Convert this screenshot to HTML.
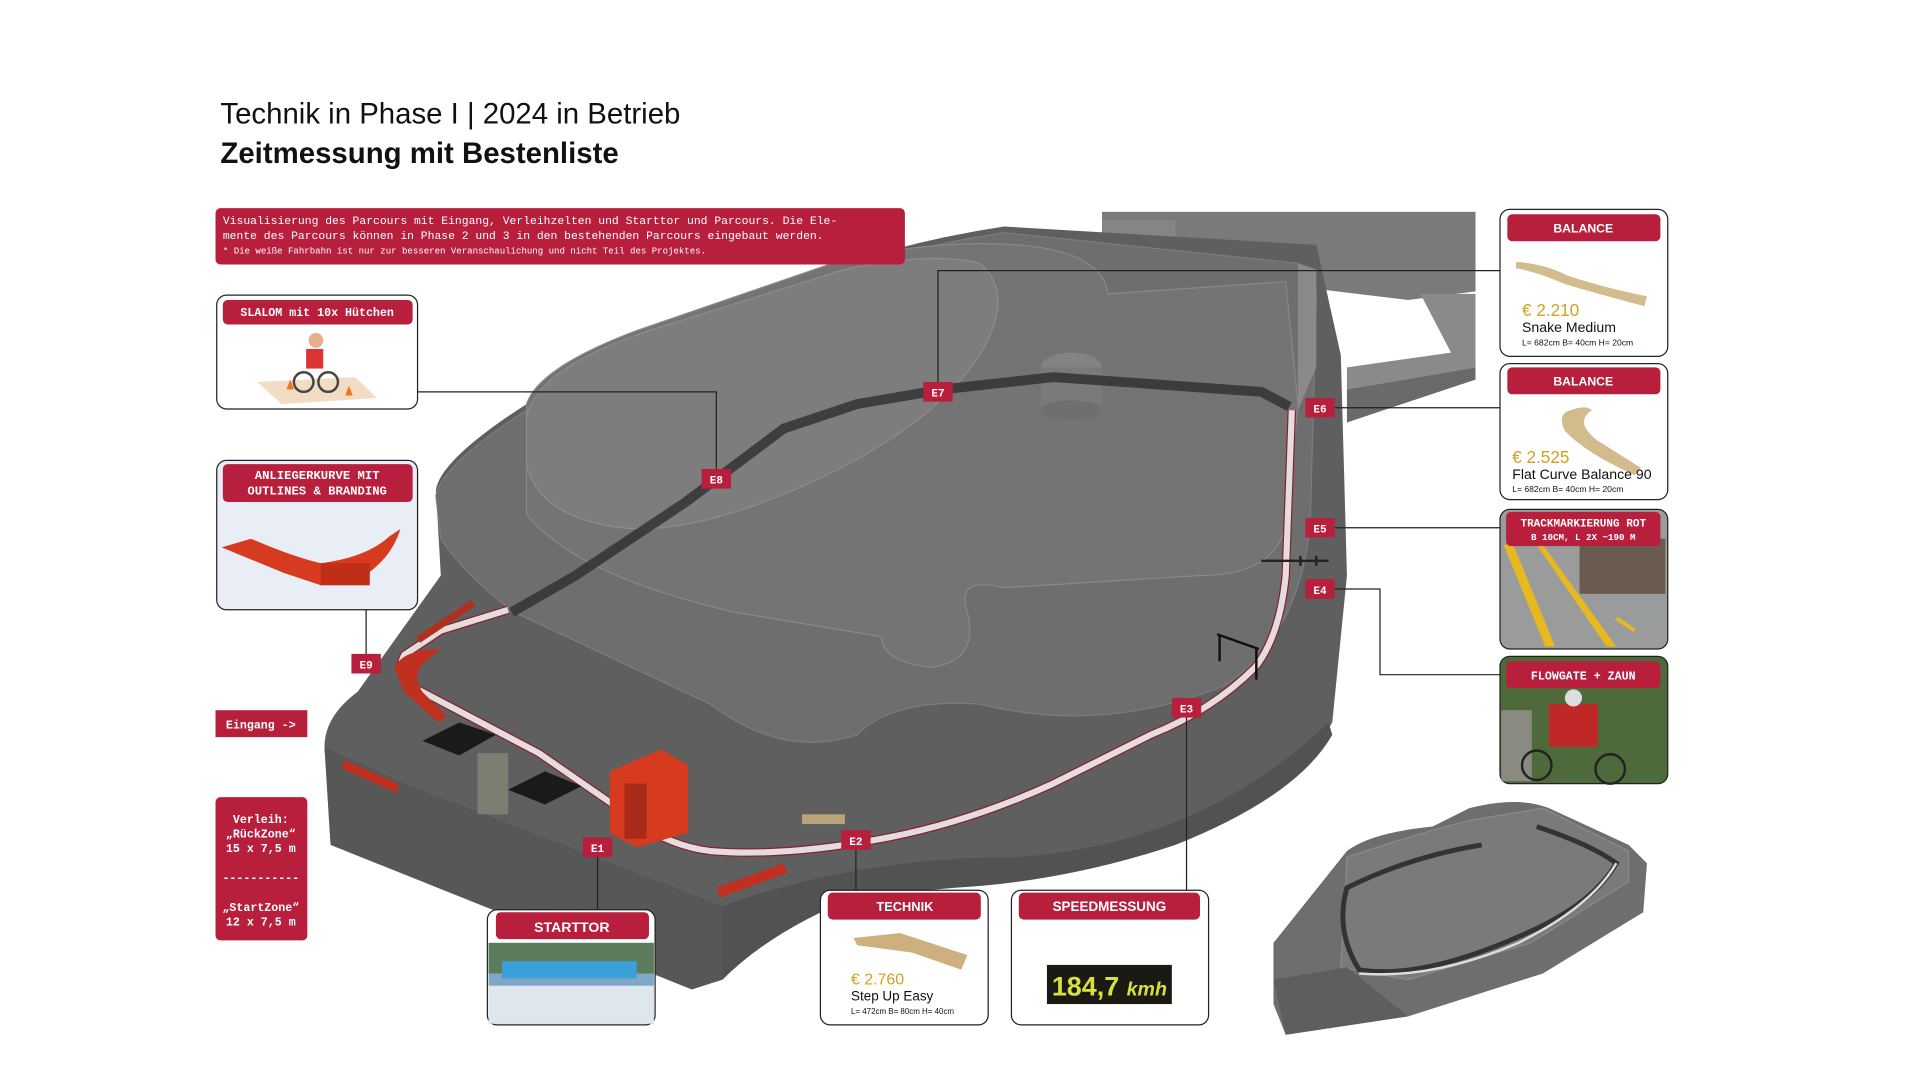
<!DOCTYPE html>
<html><head><meta charset="utf-8"><style>
html,body{margin:0;padding:0;background:#fff;width:1920px;height:1080px;overflow:hidden}
svg{display:block}
.m{font-family:"Liberation Mono",monospace;font-weight:bold;fill:#fff}
.s{font-family:"Liberation Sans",sans-serif}
</style></head><body>
<svg width="1920" height="1080" viewBox="0 0 1568 882" preserveAspectRatio="none" xmlns="http://www.w3.org/2000/svg">
<rect width="1568" height="882" fill="#fff"/>
<text x="180" y="101" class="s" font-size="24" fill="#111">Technik in Phase I | 2024 in Betrieb</text>
<text x="180" y="133" class="s" font-size="24" font-weight="bold" fill="#111">Zeitmessung mit Bestenliste</text>

<polygon points="900,173 1205,173 1205,238 1150,245 900,215" fill="#7a7a7a"/>
<rect x="900" y="180" width="60" height="35" fill="#858585"/>
<polygon points="1160,240 1205,240 1205,300 1100,318 1100,300 1185,288" fill="#8a8a8a"/>
<polygon points="1100,318 1205,300 1205,310 1100,345" fill="#6a6a6a"/>
<path d="M265,610 Q265,585 292,565 L360,470 L356,400 Q360,375 430,330 L620,240 Q720,200 820,185 L1075,200 L1095,290 L1100,470 L1088,590 Q1060,640 960,680 Q870,715 780,722 L700,730 Q630,760 590,800 L565,808 L270,690 Z" fill="#5f5f5f"/>
<path d="M265,610 L270,690 L565,808 L590,800 L590,740 L330,640 Z" fill="#575757"/>
<path d="M590,740 Q700,700 830,700 Q980,690 1085,590 L1088,600 Q1060,650 960,690 Q870,720 780,725 L700,732 Q630,760 590,800 Z" fill="#525252"/>
<path d="M356,405 Q360,380 430,335 L620,245 Q720,205 820,190 L1060,215 L1075,240 L1070,430 Q1060,520 1000,560 Q900,600 800,575 Q730,570 700,600 Q640,620 580,575 L420,500 Q380,470 360,440 Z" fill="#6e6e6e" stroke="#7c7c7c" stroke-width="1"/>
<path d="M430,330 Q440,300 520,270 L680,215 Q760,195 830,200 Q900,205 905,240 L1050,230 L1060,330 L1050,430 Q1040,470 980,470 L820,480 Q780,470 790,500 Q800,540 760,545 Q720,540 720,520 L600,500 Q470,470 430,420 Z" fill="#747474" stroke="#888" stroke-width="1"/>
<path d="M430,340 Q440,300 530,270 L690,220 Q760,205 800,215 Q830,240 800,290 Q760,350 660,395 Q560,440 500,430 Q440,420 430,380 Z" fill="#7d7d7d" stroke="#8c8c8c" stroke-width="1"/>
<ellipse cx="875" cy="300" rx="25" ry="12" fill="#838383"/>
<rect x="850" y="300" width="50" height="35" fill="#7a7a7a"/>
<ellipse cx="875" cy="335" rx="25" ry="8" fill="#6f6f6f"/>
<polygon points="1060,215 1075,220 1075,300 1060,335" fill="#8a8a8a"/>
<polyline points="418,500 470,470 560,410 640,350 700,330 770,318 860,308 960,315 1030,320 1053,332" fill="none" stroke="#333" stroke-width="8" stroke-linejoin="round" opacity="0.85"/>
<path d="M1055,335 L1050,470 Q1045,520 1025,545 Q990,580 940,600 L860,640 Q790,672 720,685 Q640,700 580,695 Q540,690 505,660 L440,615 L345,565 Q320,555 330,535 L360,515 L415,498" fill="none" stroke="#8a2030" stroke-width="7" stroke-linejoin="round"/>
<path d="M1055,335 L1050,470 Q1045,520 1025,545 Q990,580 940,600 L860,640 Q790,672 720,685 Q640,700 580,695 Q540,690 505,660 L440,615 L345,565 Q320,555 330,535 L360,515 L415,498" fill="none" stroke="#e2dede" stroke-width="5" stroke-linejoin="round"/>
<path d="M322,545 Q330,530 360,530 L348,540 Q335,550 345,565 L365,585 L358,590 L330,565 Z" fill="#c0301f"/>
<polygon points="498,630 540,612 562,625 562,680 520,692 498,680" fill="#d63a1f"/>
<rect x="510" y="640" width="18" height="45" fill="#a82a18"/>
<polygon points="280,620 325,640 325,648 280,628" fill="#c03020"/>
<polygon points="585,725 640,705 643,713 588,733" fill="#c03020"/>
<polygon points="340,520 385,490 388,495 343,525" fill="#b03020"/>
<polygon points="345,605 375,590 405,600 375,617" fill="#1a1a1a"/>
<polygon points="415,645 445,630 475,642 445,657" fill="#1a1a1a"/>
<rect x="390" y="615" width="25" height="50" fill="#8a8a7a" opacity="0.7"/>
<rect x="655" y="665" width="35" height="8" fill="#b9a47a"/>
<path d="M994,518 L1028,530 M996,518 L996,540 M1026,530 L1026,555" stroke="#111" stroke-width="2" fill="none"/>
<path d="M1030,458 L1085,458 M1062,454 L1062,462 M1075,454 L1075,462" stroke="#222" stroke-width="2"/>

<path d="M1040,770 L1100,695 Q1120,680 1170,675 L1200,660 Q1240,650 1265,660 L1330,690 L1345,705 L1342,745 L1260,795 L1150,830 L1050,845 L1040,820 Z" fill="#6e6e6e"/>
<path d="M1100,700 Q1160,680 1200,670 L1260,660 L1330,695 L1330,720 L1250,770 L1150,800 L1095,790 Z" fill="#7a7a7a" stroke="#8a8a8a"/>
<path d="M1255,675 Q1300,690 1320,705 Q1300,740 1240,765 Q1160,800 1110,792 Q1090,760 1100,725 Q1150,700 1210,690" fill="none" stroke="#333" stroke-width="4"/>
<path d="M1320,705 Q1300,740 1240,770 Q1170,800 1110,795" fill="none" stroke="#ddd" stroke-width="2"/>
<polygon points="1040,800 1100,790 1150,830 1050,845" fill="#5e5e5e"/>

<g stroke="#222" stroke-width="1" fill="none">
<polyline points="766,320 766,221 1225,221"/>
<polyline points="585,391 585,320 341,320"/>
<polyline points="1078,333 1225,333"/>
<polyline points="1078,431 1225,431"/>
<polyline points="1078,481 1127,481 1127,551 1225,551"/>
<polyline points="969,578 969,727"/>
<polyline points="699,686 699,727"/>
<polyline points="488,692 488,743"/>
<polyline points="299,542 299,498"/>
</g>
<g class="m" font-size="9" text-anchor="middle">
<rect x="754" y="312" width="24" height="16" fill="#b71f3d"/><text x="766" y="324">E7</text>
<rect x="573" y="383" width="24" height="16" fill="#b71f3d"/><text x="585" y="395">E8</text>
<rect x="1066" y="325" width="24" height="16" fill="#b71f3d"/><text x="1078" y="337">E6</text>
<rect x="1066" y="423" width="24" height="16" fill="#b71f3d"/><text x="1078" y="435">E5</text>
<rect x="1066" y="473" width="24" height="16" fill="#b71f3d"/><text x="1078" y="485">E4</text>
<rect x="957" y="570" width="24" height="16" fill="#b71f3d"/><text x="969" y="582">E3</text>
<rect x="687" y="678" width="24" height="16" fill="#b71f3d"/><text x="699" y="690">E2</text>
<rect x="476" y="684" width="24" height="16" fill="#b71f3d"/><text x="488" y="696">E1</text>
<rect x="287" y="534" width="24" height="16" fill="#b71f3d"/><text x="299" y="546">E9</text>
</g>

<rect x="176" y="170" width="563" height="46" rx="4" fill="#b71f3d"/>
<g font-family="Liberation Mono,monospace" fill="#fff">
<text x="182" y="183" font-size="9.3">Visualisierung des Parcours mit Eingang, Verleihzelten und Starttor und Parcours. Die Ele-</text>
<text x="182" y="195" font-size="9.3">mente des Parcours können in Phase 2 und 3 in den bestehenden Parcours eingebaut werden.</text>
<text x="182" y="207" font-size="7.4">* Die weiße Fahrbahn ist nur zur besseren Veranschaulichung und nicht Teil des Projektes.</text>
</g>

<rect x="177" y="241" width="164" height="93" rx="8" fill="#fff" stroke="#222" stroke-width="1"/>
<rect x="182" y="245" width="155" height="20" rx="4" fill="#b71f3d"/>
<text x="259" y="258" class="m" font-size="9.5" text-anchor="middle">SLALOM mit 10x Hütchen</text>
<polygon points="210,312 290,308 308,325 230,330" fill="#f3dcc4"/>
<circle cx="248" cy="312" r="8" fill="none" stroke="#444" stroke-width="2"/>
<circle cx="268" cy="312" r="8" fill="none" stroke="#444" stroke-width="2"/>
<rect x="250" y="285" width="14" height="16" fill="#d33" />
<circle cx="258" cy="278" r="6" fill="#e6b08a"/>
<polygon points="234,318 237,310 240,318" fill="#f07020"/>
<polygon points="282,323 285,315 288,323" fill="#f07020"/>

<rect x="177" y="376" width="164" height="122" rx="8" fill="#e9edf6" stroke="#222" stroke-width="1"/>
<rect x="182" y="379" width="155" height="31" rx="4" fill="#b71f3d"/>
<text x="259" y="391" class="m" font-size="10" text-anchor="middle">ANLIEGERKURVE MIT</text>
<text x="259" y="404" class="m" font-size="10" text-anchor="middle">OUTLINES &amp; BRANDING</text>
<path d="M181,447 L205,440 Q240,455 262,460 Q300,455 318,438 L327,432 Q320,455 298,470 L262,478 L232,468 Z" fill="#d63a1f"/>
<rect x="262" y="460" width="40" height="18" fill="#c02e18"/>

<rect x="176" y="580" width="75" height="22" fill="#b71f3d"/>
<text x="213" y="595" class="m" font-size="9.5" text-anchor="middle">Eingang -&gt;</text>

<rect x="176" y="651" width="75" height="117" rx="4" fill="#b71f3d"/>
<g class="m" font-size="9.5" text-anchor="middle">
<text x="213" y="672">Verleih:</text>
<text x="213" y="684">„RückZone“</text>
<text x="213" y="696">15 x 7,5 m</text>
<text x="213" y="720">-----------</text>
<text x="213" y="744">„StartZone“</text>
<text x="213" y="756">12 x 7,5 m</text>
</g>

<rect x="398" y="743" width="137" height="94" rx="8" fill="#fff" stroke="#222"/>
<rect x="399" y="770" width="135" height="66" fill="#7fa8c8"/>
<rect x="399" y="770" width="135" height="25" fill="#5c7c5c"/>
<rect x="410" y="785" width="110" height="14" fill="#3b9fd8"/>
<rect x="399" y="805" width="135" height="31" fill="#dfe6ee"/>
<rect x="405" y="745" width="125" height="22" rx="4" fill="#b71f3d"/>
<text x="467" y="761" class="s" font-size="11.5" font-weight="bold" fill="#fff" text-anchor="middle">STARTTOR</text>

<rect x="670" y="727" width="137" height="110" rx="8" fill="#fff" stroke="#222"/>
<rect x="676" y="729" width="125" height="22" rx="4" fill="#b71f3d"/>
<text x="739" y="744" class="s" font-size="10.5" font-weight="bold" fill="#fff" text-anchor="middle">TECHNIK</text>
<polygon points="697,766 735,762 790,780 785,792 745,778 700,772" fill="#cdb07e"/>
<text x="695" y="804" class="s" font-size="13" fill="#d4a020">€ 2.760</text>
<text x="695" y="817" class="s" font-size="11" fill="#111">Step Up Easy</text>
<text x="695" y="828" class="s" font-size="6.5" fill="#111">L= 472cm B= 80cm H= 40cm</text>

<rect x="826" y="727" width="161" height="110" rx="8" fill="#fff" stroke="#222"/>
<rect x="832" y="729" width="148" height="22" rx="4" fill="#b71f3d"/>
<text x="906" y="744" class="s" font-size="11" font-weight="bold" fill="#fff" text-anchor="middle">SPEEDMESSUNG</text>
<rect x="855" y="788" width="102" height="32" fill="#1a1a12"/>
<text x="906" y="813" class="s" font-size="22" font-weight="bold" fill="#d8e040" text-anchor="middle">184,7 <tspan font-style="italic" font-size="16">kmh</tspan></text>

<rect x="1225" y="171" width="137" height="120" rx="8" fill="#fff" stroke="#222"/>
<rect x="1231" y="175" width="125" height="22" rx="4" fill="#b71f3d"/>
<text x="1293" y="190" class="s" font-size="10" font-weight="bold" fill="#fff" text-anchor="middle">BALANCE</text>
<path d="M1238,214 Q1260,215 1280,225 Q1310,235 1345,242 L1343,250 Q1305,240 1278,232 Q1255,222 1238,219 Z" fill="#d2bb8d"/>
<text x="1243" y="258" class="s" font-size="14" fill="#d4a020">€ 2.210</text>
<text x="1243" y="271" class="s" font-size="11.5" fill="#111">Snake Medium</text>
<text x="1243" y="282" class="s" font-size="7" fill="#111">L= 682cm B= 40cm H= 20cm</text>

<rect x="1225" y="297" width="137" height="111" rx="8" fill="#fff" stroke="#222"/>
<rect x="1231" y="300" width="125" height="22" rx="4" fill="#b71f3d"/>
<text x="1293" y="315" class="s" font-size="10" font-weight="bold" fill="#fff" text-anchor="middle">BALANCE</text>
<path d="M1280,336 Q1295,330 1300,335 Q1285,345 1305,360 L1340,382 L1335,388 Q1295,370 1278,352 Q1272,340 1280,336 Z" fill="#d2bb8d"/>
<text x="1235" y="378" class="s" font-size="14" fill="#d4a020">€ 2.525</text>
<text x="1235" y="391" class="s" font-size="11.5" fill="#111">Flat Curve Balance 90</text>
<text x="1235" y="402" class="s" font-size="7" fill="#111">L= 682cm B= 40cm H= 20cm</text>

<rect x="1225" y="416" width="137" height="114" rx="8" fill="#9a9c9c" stroke="#222"/>
<rect x="1290" y="440" width="70" height="45" fill="#6b5a50"/>
<polygon points="1228,445 1236,445 1270,528 1262,528" fill="#e8b820"/>
<polygon points="1255,445 1260,445 1320,528 1312,528" fill="#e8b820"/>
<polygon points="1320,505 1335,515 1325,508" fill="#e8b820" stroke="#e8b820" stroke-width="3"/>
<rect x="1230" y="418" width="126" height="28" rx="4" fill="#b71f3d"/>
<text x="1293" y="430" class="m" font-size="9" text-anchor="middle">TRACKMARKIERUNG ROT</text>
<text x="1293" y="441" class="m" font-size="7.5" text-anchor="middle">B 10CM, L 2X ~190 M</text>

<rect x="1225" y="536" width="137" height="104" rx="8" fill="#4e6a3a" stroke="#222"/>
<rect x="1226" y="580" width="25" height="58" fill="#8a8a80"/>
<rect x="1265" y="575" width="40" height="35" fill="#c02828"/>
<circle cx="1285" cy="570" r="7" fill="#ddd"/>
<circle cx="1255" cy="625" r="12" fill="none" stroke="#222" stroke-width="2"/>
<circle cx="1315" cy="628" r="12" fill="none" stroke="#222" stroke-width="2"/>
<rect x="1230" y="540" width="126" height="22" rx="4" fill="#b71f3d"/>
<text x="1293" y="555" class="m" font-size="9.5" text-anchor="middle">FLOWGATE + ZAUN</text>
</svg>
</body></html>
